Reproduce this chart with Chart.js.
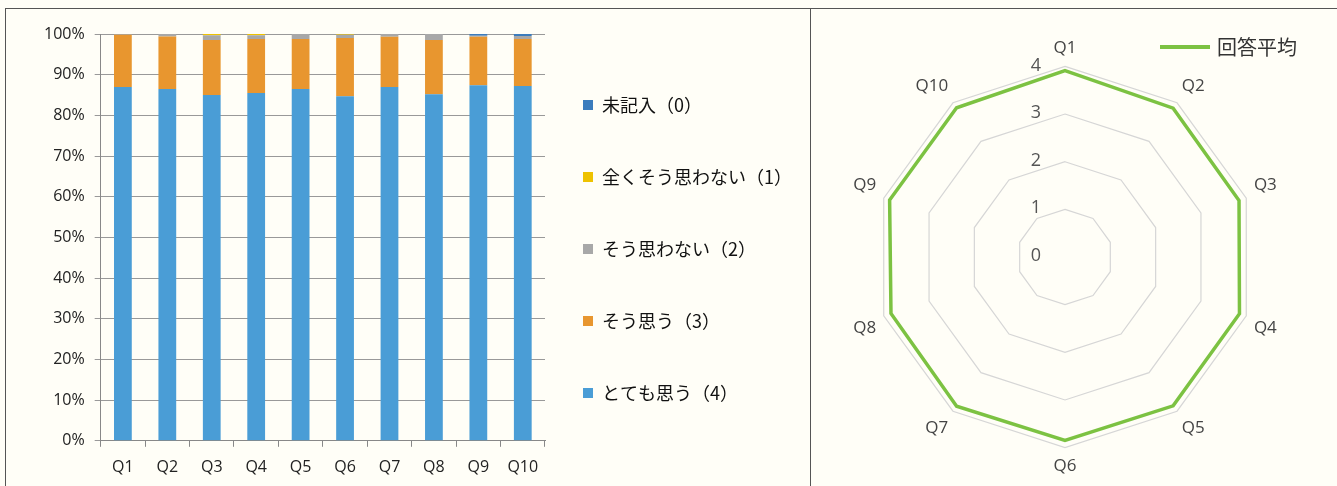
<!DOCTYPE html>
<html>
<head>
<meta charset="utf-8">
<script src="https://cdn.jsdelivr.net/npm/chart.js@4.4.0/dist/chart.umd.min.js"></script>
<style>
  html, body { margin: 0; padding: 0; background: #fffef7; }
  body { width: 1337px; height: 486px; position: relative; overflow: hidden; }
  .box { position: absolute; border: 1.5px solid #555; border-bottom: none; box-sizing: border-box; }
  #leftBox { left: 5px; top: 8px; width: 806px; height: 480px; }
  #rightBox { left: 810px; top: 8px; width: 530px; height: 480px; border-right: none; }
  canvas { position: absolute; }
</style>
</head>
<body>
<div class="box" id="leftBox"></div>
<div class="box" id="rightBox"></div>
<canvas id="barChart" style="left:6px;top:9px;width:803px;height:477px"></canvas>
<canvas id="radarChart" style="left:812px;top:10px;width:506px;height:476px"></canvas>
<script>
const questions = ["Q1", "Q2", "Q3", "Q4", "Q5", "Q6", "Q7", "Q8", "Q9", "Q10"];

// percentages per answer (bottom to top of each bar)
const veryMuch = [87.0, 86.5, 85.0, 85.5, 86.5, 84.7, 87.0, 85.2, 87.4, 87.2];   // とても思う（4）
const agree = [12.8, 12.9, 13.5, 13.3, 12.3, 14.3, 12.3, 13.3, 11.9, 11.6];      // そう思う（3）
const disagree = [0.2, 0.6, 1.2, 0.9, 1.2, 0.8, 0.7, 1.5, 0.3, 0.7];             // そう思わない（2）
const strongDisagree = [0.0, 0.0, 0.3, 0.3, 0.0, 0.2, 0.0, 0.0, 0.0, 0.0];       // 全くそう思わない（1）
const noAnswer = [0.0, 0.0, 0.0, 0.0, 0.0, 0.0, 0.0, 0.0, 0.4, 0.5];             // 未記入（0）

const averages = [3.91, 3.86, 3.84, 3.85, 3.86, 3.85, 3.87, 3.84, 3.87, 3.87];
const radarTicks = [0, 1, 2, 3, 4];

const jpFont = "'Noto Sans CJK JP', 'Open Sans', sans-serif";
const latinFont = "'Open Sans', 'Noto Sans', sans-serif";

// pull the legend a bit closer to the bars and up, keeping its item spacing
const nudgeLegend = {
  id: "nudgeLegend",
  afterLayout(chart) {
    const lg = chart.legend;
    lg.left -= 16;
    lg.width += 16;
    lg.top -= 12;
    lg.bottom -= 12;
  }
};

new Chart(document.getElementById("barChart"), {
  type: "bar",
  data: {
    labels: questions,
    datasets: [
      { label: "とても思う（4）", data: veryMuch, backgroundColor: "#4a9dd6" },
      { label: "そう思う（3）", data: agree, backgroundColor: "#e8962f" },
      { label: "そう思わない（2）", data: disagree, backgroundColor: "#a8a8a8" },
      { label: "全くそう思わない（1）", data: strongDisagree, backgroundColor: "#eec200" },
      { label: "未記入（0）", data: noAnswer, backgroundColor: "#3b7cbd" }
    ]
  },
  options: {
    responsive: false,
    animation: false,
    devicePixelRatio: 1,
    layout: { padding: { left: 28, top: 25, right: 0, bottom: -2 } },
    datasets: { bar: { barPercentage: 0.4, categoryPercentage: 1 } },
    scales: {
      x: {
        stacked: true,
        grid: { drawOnChartArea: false, offset: true, tickLength: 6, color: "#888" },
        border: { color: "#888" },
        ticks: { color: "#222", font: { family: latinFont, size: 16 }, padding: 11 }
      },
      y: {
        stacked: true,
        min: 0, max: 100,
        grid: { color: "#999", tickLength: 6 },
        border: { color: "#888" },
        ticks: { stepSize: 10, padding: 10, color: "#222", font: { family: latinFont, size: 16 }, callback: v => v + "%" }
      }
    },
    plugins: {
      tooltip: { enabled: false },
      legend: {
        position: "right",
        reverse: true,
        maxWidth: 264,
        labels: { boxWidth: 10, boxHeight: 10, padding: 54, color: "#111", font: { family: jpFont, size: 18 } }
      }
    }
  },
  plugins: [nudgeLegend]
});

// draws 0..4 just left of the Q1 spoke, like the original
const radarTickLabels = {
  id: "radarTickLabels",
  afterDatasetsDraw(chart) {
    const r = chart.scales.r, ctx = chart.ctx;
    ctx.save();
    ctx.fillStyle = "#555";
    ctx.font = "18px " + latinFont;
    ctx.textAlign = "center";
    ctx.textBaseline = "middle";
    radarTicks.forEach(t => {
      const d = r.getDistanceFromCenterForValue(t);
      ctx.fillText(String(t), r.xCenter - 29, r.yCenter - d - 1);
    });
    ctx.restore();
  }
};

// legend in the top right corner that does not take room from the radar
const cornerLegend = {
  id: "cornerLegend",
  afterDraw(chart) {
    const ctx = chart.ctx, ds = chart.data.datasets[0];
    const x = chart.width - 101, y = 37;
    ctx.save();
    ctx.strokeStyle = ds.borderColor;
    ctx.lineWidth = 4;
    ctx.beginPath();
    ctx.moveTo(x - 57, y);
    ctx.lineTo(x - 7, y);
    ctx.stroke();
    ctx.fillStyle = "#333";
    ctx.font = "20px " + jpFont;
    ctx.textBaseline = "middle";
    ctx.fillText(ds.label, x, y);
    ctx.restore();
  }
};

new Chart(document.getElementById("radarChart"), {
  type: "radar",
  data: {
    labels: questions,
    datasets: [{
      label: "回答平均",
      data: averages,
      borderColor: "#7cc242",
      backgroundColor: "#7cc242",
      borderWidth: 3.5,
      fill: false,
      pointRadius: 0
    }]
  },
  options: {
    responsive: false,
    animation: false,
    devicePixelRatio: 1,
    layout: { padding: { left: 5, right: 5, top: 28, bottom: 10 } },
    scales: {
      r: {
        min: 0, max: 4,
        ticks: { stepSize: 1, display: false },
        angleLines: { display: false },
        grid: { color: "#d6d6d6", lineWidth: 1.2 },
        pointLabels: { color: "#444", font: { family: latinFont, size: 17 }, padding: 8 }
      }
    },
    plugins: {
      tooltip: { enabled: false },
      legend: { display: false }
    }
  },
  plugins: [radarTickLabels, cornerLegend]
});
</script>
</body>
</html>
